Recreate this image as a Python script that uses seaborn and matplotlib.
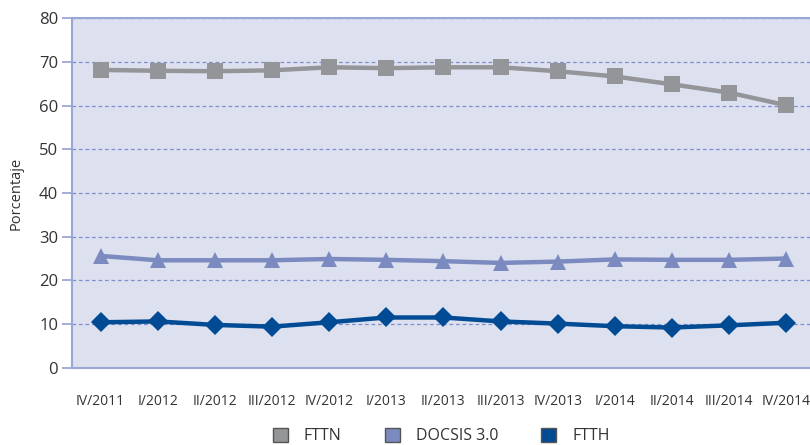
import matplotlib
matplotlib.use("Agg")
import matplotlib.pyplot as plt
import numpy as np
import pandas as pd
import seaborn as sns
from matplotlib.patches import Patch

# Quarterly share (%) of each access technology
quarters = ["IV/2011", "I/2012", "II/2012", "III/2012", "IV/2012", "I/2013", "II/2013",
            "III/2013", "IV/2013", "I/2014", "II/2014", "III/2014", "IV/2014"]
fttn = [68.2, 68.0, 67.9, 68.1, 68.8, 68.6, 68.8, 68.8, 67.9, 66.7, 64.9, 63.0, 60.1]
docsis = [25.6, 24.6, 24.6, 24.6, 24.9, 24.7, 24.4, 24.0, 24.3, 24.8, 24.7, 24.7, 25.0]
ftth = [10.4, 10.6, 9.8, 9.4, 10.4, 11.5, 11.5, 10.6, 10.1, 9.5, 9.2, 9.7, 10.3]

series_names = ["FTTN", "DOCSIS 3.0", "FTTH"]
series_values = [fttn, docsis, ftth]
colors = ["#939598", "#7b8bc0", "#004b93"]
markers = ["s", "^", "D"]
marker_sizes = [12, 11, 10]
y_ticks = [0, 10, 20, 30, 40, 50, 60, 70, 80]

sns.set_theme(style="white")
plt.rcParams["font.family"] = ["Open Sans", "DejaVu Sans"]

axis_color = "#9aa6d6"
text_color = "#333333"

fig = plt.figure(figsize=(8.1, 4.45), dpi=100)
ax = fig.add_axes([0.0889, 0.1737, 0.917, 0.785])
ax.set_facecolor("#dde0ef")

positions = np.arange(len(quarters))
for name, vals, col, mk, ms in zip(series_names, series_values, colors, markers, marker_sizes):
    df = pd.DataFrame({"pos": positions, "Porcentaje": vals})
    sns.lineplot(data=df, x="pos", y="Porcentaje", color=col, marker=mk,
                 markersize=ms, markeredgewidth=0, linewidth=3.2, ax=ax,
                 legend=False, zorder=3)

ax.set_xlim(-0.5, len(quarters) - 0.5)
ax.set_ylim(0, 80)
ax.set_yticks(y_ticks)
ax.set_xticks(positions)
ax.set_xticklabels(quarters)
ax.set_xticks(np.arange(-0.5, len(quarters), 1), minor=True)
ax.set_xlabel("")
ax.set_ylabel("Porcentaje", fontsize=10.5, color=text_color, labelpad=11)

ax.tick_params(axis="x", which="major", length=0, pad=19, labelsize=10, labelcolor=text_color)
ax.tick_params(axis="x", which="minor", length=9, width=1.3, color=axis_color, direction="out")
ax.tick_params(axis="y", which="major", length=7, width=1.3, color=axis_color,
               labelsize=12, labelcolor=text_color, pad=3, left=True)

ax.set_axisbelow(True)
ax.yaxis.grid(True, linestyle=(0, (3, 2.2)), color="#7f8fcc", linewidth=0.9)
ax.xaxis.grid(False)

for side in ["left", "bottom", "top"]:
    ax.spines[side].set_visible(True)
    ax.spines[side].set_color(axis_color)
    ax.spines[side].set_linewidth(1.5)
ax.spines["right"].set_visible(False)

handles = [Patch(facecolor=c, edgecolor="#555555", linewidth=1.0) for c in colors]
fig.legend(handles, series_names, loc="center", bbox_to_anchor=(0.545, 1 - 436 / 445),
           ncol=3, frameon=False, handlelength=0.94, handleheight=0.94,
           handletextpad=1.0, columnspacing=2.7, fontsize=11.5, labelcolor=text_color)

fig.savefig("out.png", dpi=100)
